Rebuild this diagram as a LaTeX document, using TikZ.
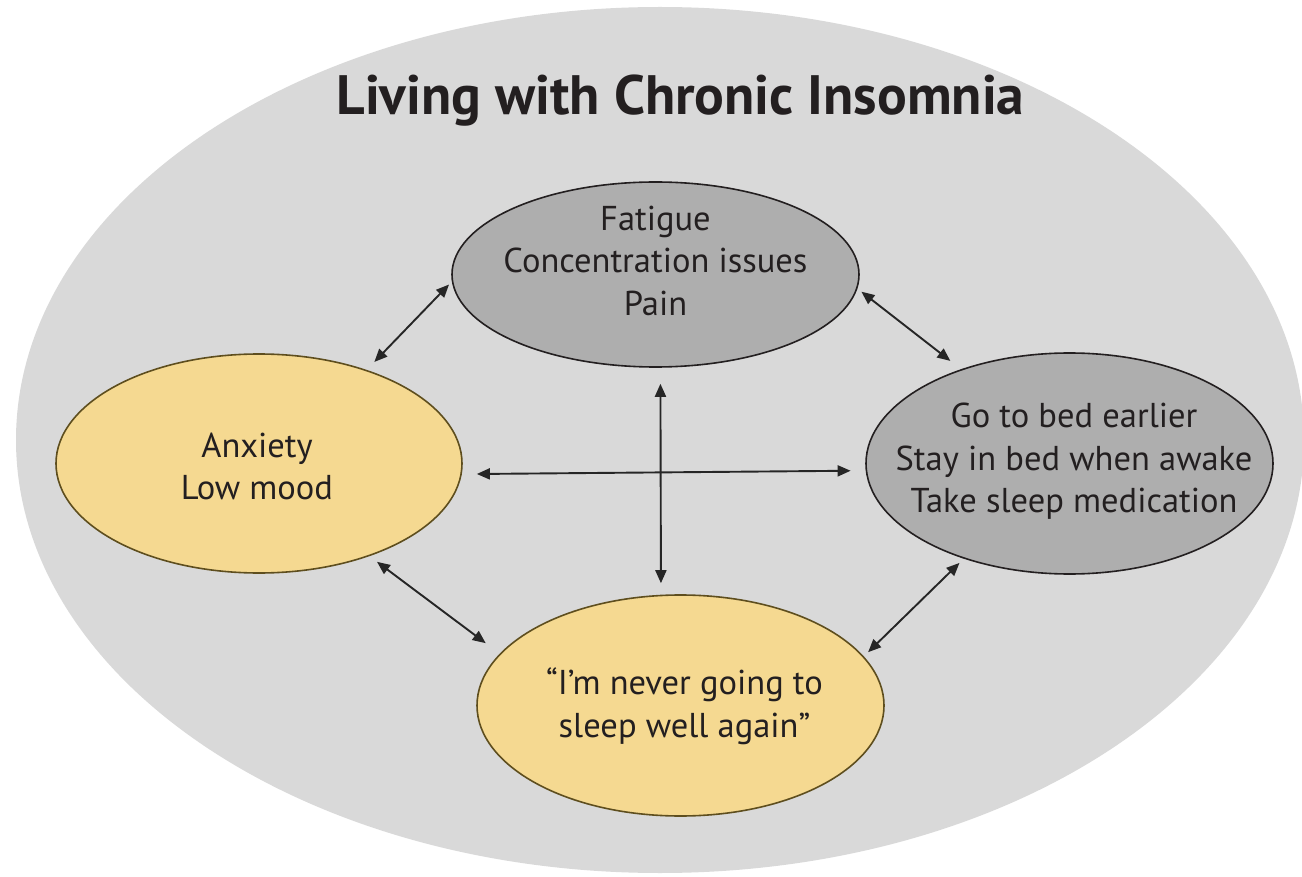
\documentclass[tikz,border=0pt]{standalone}
\usepackage{fontspec}
\setmainfont{PT Sans}
\usetikzlibrary{shapes.geometric,arrows.meta}
\definecolor{bgc}{HTML}{D9D9D9}
\definecolor{grayfill}{HTML}{AEAEAE}
\definecolor{yelfill}{HTML}{F5D991}
\definecolor{yelline}{HTML}{5E4E1E}
\definecolor{txt}{HTML}{231F20}
\definecolor{arr}{HTML}{262626}
\begin{document}
\begin{tikzpicture}[x=1pt,y=-1pt,
  bubble/.style={ellipse, inner sep=0pt, line width=1.6pt},
  graybub/.style={bubble, fill=grayfill, draw=txt},
  yelbub/.style={bubble, fill=yelfill, draw=yelline},
  btext/.style={font=\fontsize{34.5}{42.5}\selectfont, text=txt, align=center, inner sep=0pt},
  dar/.style={{Triangle[length=13pt,width=11pt]}-{Triangle[length=13pt,width=11pt]}, line width=1.9pt, draw=arr}
]
\useasboundingbox (0,0) rectangle (1302,877);
\node[ellipse, fill=bgc, minimum width=1288pt, minimum height=866pt, inner sep=0pt] (bg) at (660,440) {};
\node[font=\fontsize{55.5}{60}\selectfont\bfseries, text=txt, anchor=base, inner sep=0pt] (title) at (680.5,115) {Living with Chronic Insomnia};

\node[graybub, minimum width=407pt, minimum height=185pt,
  label={[btext, yshift=13.7pt]center:Fatigue\\Concentration issues\\Pain}] (top) at (655.5,274.5) {};
\node[yelbub, minimum width=406pt, minimum height=219pt,
  label={[btext, xshift=-2pt, yshift=-2.8pt]center:Anxiety\\Low mood}] (left) at (259,463.5) {};
\node[graybub, minimum width=407pt, minimum height=221pt,
  label={[btext, xshift=4.5pt, yshift=2pt]center:Go to bed earlier\\Stay in bed when awake\\Take sleep medication}] (right) at (1069.5,463.5) {};
\node[yelbub, minimum width=407pt, minimum height=221pt,
  label={[btext, xshift=4pt, yshift=-0.5pt]center:“I’m never going to\\sleep well again”}] (bottom) at (680.5,705.5) {};

\draw[dar, shorten <=4pt, shorten >=11pt] (top.182.6) -- (left.41.4);
\draw[dar, shorten <=5pt, shorten >=13.5pt] (top.356.6) -- (right.139.9);
\draw[dar, shorten <=6pt, shorten >=6pt] (right.222.8) -- (bottom.15);
\draw[dar, shorten <=9.4pt, shorten >=17.5pt] (left.320.7) -- (bottom.164);
\draw[dar, shorten <=15pt, shorten >=15pt] (left.357.3) -- (right.182.7);
\draw[dar, shorten <=16pt, shorten >=11.5pt] (top.273.4) -- (bottom.100.05);
\end{tikzpicture}
\end{document}
